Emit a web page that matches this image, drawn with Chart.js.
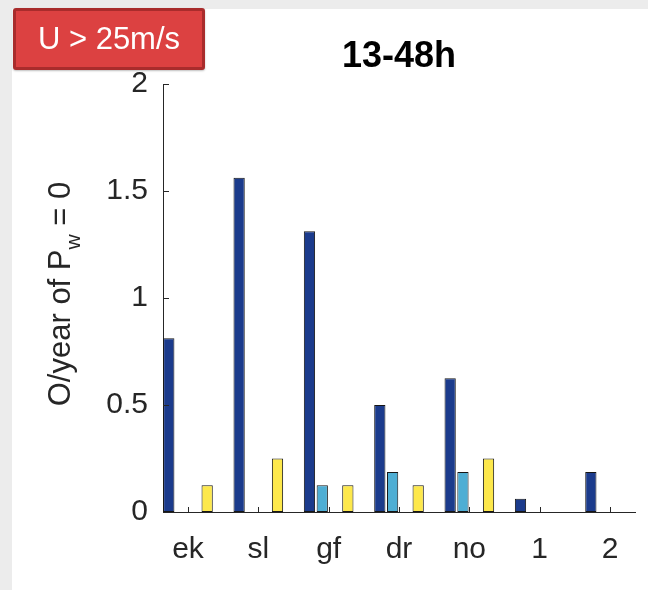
<!DOCTYPE html>
<html>
<head>
<meta charset="utf-8">
<script src="https://cdn.jsdelivr.net/npm/chart.js@4.4.1/dist/chart.umd.min.js"></script>
<style>
  html, body { margin: 0; padding: 0; }
  body { width: 648px; height: 590px; background: #ececec; position: relative; overflow: hidden; }
  #panel { position: absolute; left: 12px; top: 9px; right: 0; bottom: 0; background: #ffffff; }
  #wrap { position: absolute; left: 0; top: 0; width: 648px; height: 590px; }
  #badge {
    position: absolute; left: 13px; top: 8px; width: 186px; height: 56px;
    background: #dc4141; border: 3px solid #a92c2c; border-radius: 3px;
    color: #ffffff; font: 31px "Liberation Sans", Arial, sans-serif;
    display: flex; align-items: center; justify-content: center;
    box-shadow: 0 1px 2px rgba(0,0,0,0.25);
  }
</style>
</head>
<body>
<div id="panel"></div>
<div id="wrap"><canvas id="chart"></canvas></div>
<div id="badge">U &gt; 25m/s</div>
<script>
// Occurrences per year by group, four bar series per group
const categories   = ['ek', 'sl', 'gf', 'dr', 'no', '1', '2'];
const seriesDark   = [0.8125, 1.5625, 1.3125, 0.5, 0.625, 0.0625, 0.1875];
const seriesLight  = [0, 0, 0.125, 0.1875, 0.1875, 0, 0];
const seriesEmpty  = [0, 0, 0, 0, 0, 0, 0];
const seriesYellow = [0.125, 0.25, 0.125, 0.125, 0.25, 0, 0];
const yTicks = [0, 0.5, 1, 1.5, 2];

const chartTitle = '13-48h';
const yLabelMain = 'O/year of P';
const yLabelSub = 'w';
const yLabelTail = ' = 0';

const FONT = '"Liberation Sans", Arial, Helvetica, sans-serif';
const AXIS_COLOR = '#262626';

const toPoints = vals => vals.map((v, i) => ({ x: i + 1, y: v }));

function barSet(label, vals, color) {
  return {
    label,
    data: toPoints(vals),
    backgroundColor: color,
    borderColor: '#161616',
    borderWidth: 1,
    borderSkipped: false,
    categoryPercentage: 4 / 5.5,
    barPercentage: 0.88
  };
}

// Inward tick marks, the title and the y-axis label with its subscript
const axisDecor = {
  id: 'axisDecor',
  afterDatasetsDraw(chart) {
    const { ctx, chartArea: a, scales: { x, y } } = chart;
    ctx.save();
    ctx.strokeStyle = AXIS_COLOR;
    ctx.lineWidth = 1;
    ctx.beginPath();
    y.ticks.forEach(t => {
      const py = Math.round(y.getPixelForValue(t.value)) + 0.5;
      ctx.moveTo(a.left, py);
      ctx.lineTo(a.left + 6, py);
    });
    x.ticks.forEach(t => {
      const px = Math.round(x.getPixelForValue(t.value)) + 0.5;
      ctx.moveTo(px, a.bottom);
      ctx.lineTo(px, a.bottom - 5);
    });
    ctx.stroke();

    ctx.fillStyle = '#000000';
    ctx.font = 'bold 36px ' + FONT;
    ctx.textAlign = 'center';
    ctx.textBaseline = 'middle';
    ctx.fillText(chartTitle, (a.left + a.right) / 2, 57);

    const mainFont = '31px ' + FONT;
    const subFont = '21px ' + FONT;
    ctx.font = mainFont;
    const wMain = ctx.measureText(yLabelMain).width;
    const wTail = ctx.measureText(yLabelTail).width;
    ctx.font = subFont;
    const wSub = ctx.measureText(yLabelSub).width;
    const total = wMain + wSub + wTail;
    ctx.translate(70, (a.top + a.bottom) / 2 - 4);
    ctx.rotate(-Math.PI / 2);
    ctx.fillStyle = AXIS_COLOR;
    ctx.textAlign = 'left';
    ctx.textBaseline = 'alphabetic';
    let cx = -total / 2;
    ctx.font = mainFont;
    ctx.fillText(yLabelMain, cx, 0);
    cx += wMain;
    ctx.font = subFont;
    ctx.fillText(yLabelSub, cx, 10);
    cx += wSub;
    ctx.font = mainFont;
    ctx.fillText(yLabelTail, cx, 0);
    ctx.restore();
  }
};

new Chart(document.getElementById('chart'), {
  type: 'bar',
  data: {
    datasets: [
      barSet('series 1', seriesDark, '#1b3b8c'),
      barSet('series 2', seriesLight, '#4eaed4'),
      barSet('series 3', seriesEmpty, '#7e2f8e'),
      barSet('series 4', seriesYellow, '#fde84b')
    ]
  },
  options: {
    responsive: true,
    maintainAspectRatio: false,
    animation: false,
    layout: { padding: { left: 0, right: 13, top: 84, bottom: 0 } },
    plugins: { legend: { display: false }, tooltip: { enabled: false }, title: { display: false } },
    scales: {
      x: {
        type: 'linear',
        bounds: 'data',
        offset: false,
        min: 0.645,
        max: 7.355,
        grid: { display: false, drawTicks: false, offset: false },
        border: { display: true, color: AXIS_COLOR, width: 1 },
        afterBuildTicks: s => { s.ticks = categories.map((c, i) => ({ value: i + 1 })); },
        afterFit: s => { s.height = 78; },
        ticks: {
          padding: 20,
          color: AXIS_COLOR,
          font: { family: FONT, size: 30 },
          maxRotation: 0,
          autoSkip: false,
          callback: v => categories[Math.round(v) - 1]
        }
      },
      y: {
        type: 'linear',
        min: 0,
        max: 2,
        grid: { display: false, drawTicks: false },
        border: { display: true, color: AXIS_COLOR, width: 1 },
        afterBuildTicks: s => { s.ticks = yTicks.map(v => ({ value: v })); },
        afterFit: s => { s.width = 163; },
        ticks: {
          padding: 15,
          color: AXIS_COLOR,
          font: { family: FONT, size: 30 },
          callback: v => String(v)
        }
      }
    }
  },
  plugins: [axisDecor]
});
</script>
</body>
</html>
